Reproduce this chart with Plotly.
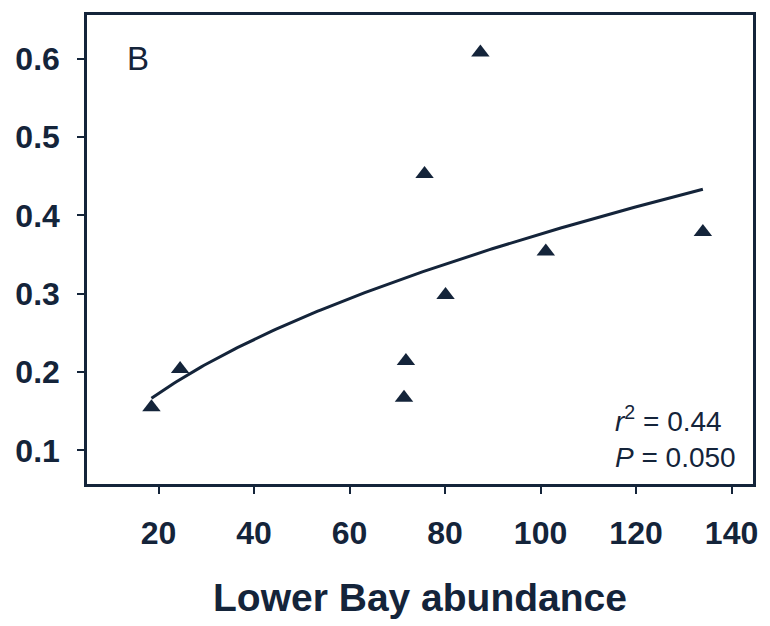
import numpy as np
import plotly.graph_objects as go

# Data
abundance = [18.5, 24.5, 71.4, 71.8, 75.7, 80.1, 87.4, 101.1, 134.0]
response = [0.155, 0.204, 0.167, 0.214, 0.453, 0.2985, 0.608, 0.354, 0.379]

# Fitted power curve y = a * x^b
fit_a = 0.0406
fit_b = 0.4835
fit_x = np.linspace(min(abundance), max(abundance), 200)
fit_y = fit_a * fit_x ** fit_b

x_ticks = [20, 40, 60, 80, 100, 120, 140]
y_ticks = [0.1, 0.2, 0.3, 0.4, 0.5, 0.6]

ink = "#14243a"
font_family = "Liberation Sans, Arial, sans-serif"

fig = go.Figure()
fig.add_trace(go.Scatter(x=fit_x, y=fit_y, mode="lines",
                         line=dict(color=ink, width=3), hoverinfo="skip"))
fig.add_trace(go.Scatter(x=abundance, y=response, mode="markers",
                         marker=dict(symbol="triangle-up", size=16, color=ink)))

fig.update_layout(
    width=770, height=626,
    margin=dict(l=87, r=15, t=12, b=142),
    paper_bgcolor="white", plot_bgcolor="white",
    showlegend=False,
    font=dict(family=font_family, color=ink),
)
fig.update_xaxes(
    range=[5, 144.5], tickvals=x_ticks, ticktext=[str(v) for v in x_ticks],
    showgrid=False, zeroline=False,
    showline=True, linecolor=ink, linewidth=2.5, mirror=True,
    ticks="outside", ticklen=7, tickwidth=2, tickcolor=ink,
    tickfont=dict(size=32, weight="bold", color=ink),
    ticklabelstandoff=12,
    title=dict(text="Lower Bay abundance", standoff=34,
               font=dict(size=39, weight="bold", color=ink)),
)
fig.update_yaxes(
    range=[0.057, 0.656], tickvals=y_ticks, ticktext=[f"{v:.1f}" for v in y_ticks],
    showgrid=False, zeroline=False,
    showline=True, linecolor=ink, linewidth=2.5, mirror=True,
    ticks="outside", ticklen=7, tickwidth=2, tickcolor=ink,
    tickfont=dict(size=32, weight="bold", color=ink),
    ticklabelstandoff=11,
)

fig.add_annotation(x=0.076, y=0.907, xref="paper", yref="paper", text="B",
                   showarrow=False, xanchor="center", yanchor="middle",
                   font=dict(size=33, color=ink))
fig.add_annotation(x=0.79, y=0.02, xref="paper", yref="paper",
                   text="<i>r</i><sup>2</sup> = 0.44<br><i>P</i> = 0.050",
                   showarrow=False, xanchor="left", yanchor="bottom", align="left",
                   font=dict(size=28, color=ink))

fig.write_html("out.html")
